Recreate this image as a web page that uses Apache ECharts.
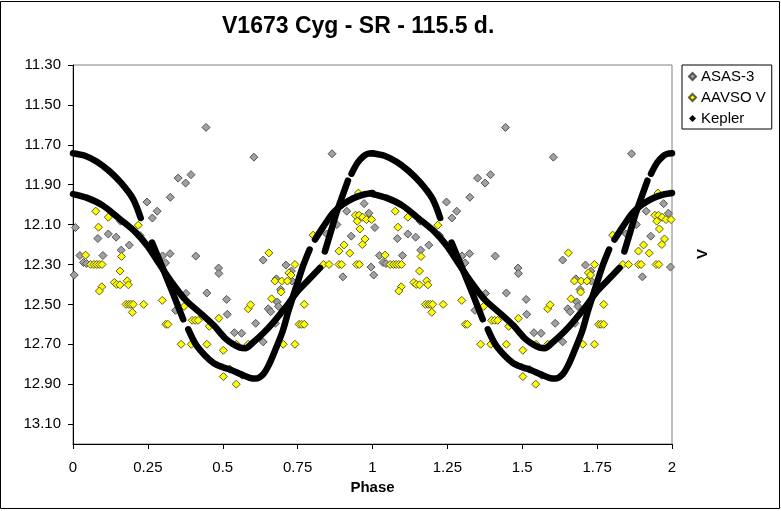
<!DOCTYPE html>
<html>
<head>
<meta charset="utf-8">
<script src="https://cdn.jsdelivr.net/npm/echarts@6/dist/echarts.min.js"></script>
<style>
    html, body { margin: 0; padding: 0; background: #fff; }
    #chart { width: 781px; height: 511px; }
</style>
</head>
<body>
<div id="chart"></div>
<script>
const titleText = 'V1673 Cyg - SR - 115.5 d.'
const seriesNames = ['ASAS-3', 'AAVSO V', 'Kepler']

// ASAS-3, phase 0..1 (plotted twice)
const asasPhase = [0.444, 0.604, 0.865, 0.351, 0.376, 0.394, 0.325, 0.247, 0.281, 0.265,
    0.008, 0.083, 0.118, 0.144, 0.161, 0.188, 0.159, 0.224, 0.972, 0.988,
    0.929, 0.914, 0.023, 0.100, 0.299, 0.324, 0.410, 0.035, 0.045, 0.004,
    0.342, 0.377, 0.447, 0.486, 0.487, 0.309, 0.513, 0.515, 0.539, 0.563,
    0.610, 0.565, 0.635, 0.635, 0.693, 0.652, 0.660, 0.682, 0.686, 0.676,
    0.679, 0.711, 0.731, 0.901, 0.995, 0.847, 0.881, 0.729]
const asasMag = [11.613, 11.762, 11.745, 11.867, 11.892, 11.850, 11.963, 11.987, 12.033, 12.067,
    12.115, 12.170, 12.147, 12.163, 12.228, 12.203, 12.083, 12.155, 11.995, 12.043,
    12.158, 12.033, 12.255, 12.255, 12.257, 12.246, 12.258, 12.290, 12.295, 12.353,
    12.530, 12.445, 12.443, 12.318, 12.345, 12.292, 12.475, 12.550, 12.642, 12.645,
    12.595, 12.855, 12.278, 12.688, 12.425, 12.522, 12.537, 12.488, 12.510, 12.595,
    12.372, 12.303, 12.383, 12.362, 12.313, 12.147, 12.100, 12.333]

// AAVSO V, phase 0..1 (plotted twice)
const aavsoPhase = [0.076, 0.118, 0.218, 0.085, 0.042, 0.162, 0.059, 0.070, 0.079, 0.088,
    0.097, 0.157, 0.096, 0.088, 0.138, 0.146, 0.157, 0.181, 0.185, 0.177,
    0.186, 0.193, 0.201, 0.236, 0.198, 0.298, 0.310, 0.317, 0.371, 0.398,
    0.408, 0.418, 0.487, 0.455, 0.361, 0.395, 0.447, 0.502, 0.502, 0.545,
    0.524, 0.546, 0.585, 0.585, 0.593, 0.654, 0.702, 0.741, 0.755, 0.763,
    0.772, 0.772, 0.674, 0.697, 0.716, 0.663, 0.695, 0.741, 0.721, 0.728,
    0.836, 0.855, 0.888, 0.924, 0.888, 0.897, 0.947, 0.956, 0.953, 0.943,
    0.955, 0.967, 0.980, 0.997, 0.949, 0.958, 0.975, 0.966, 0.905, 0.802]
const aavsoMag = [12.033, 12.063, 12.103, 12.113, 12.253, 12.260, 12.300, 12.300, 12.300, 12.300,
    12.300, 12.333, 12.412, 12.433, 12.390, 12.400, 12.402, 12.382, 12.402, 12.500,
    12.500, 12.500, 12.500, 12.500, 12.540, 12.480, 12.600, 12.600, 12.510, 12.580,
    12.580, 12.580, 12.570, 12.610, 12.700, 12.700, 12.700, 12.730, 12.862, 12.900,
    12.825, 12.700, 12.700, 12.522, 12.502, 12.242, 12.700, 12.700, 12.600, 12.600,
    12.600, 12.500, 12.383, 12.383, 12.383, 12.472, 12.438, 12.300, 12.342, 12.353,
    12.300, 12.300, 12.233, 12.243, 12.300, 12.300, 12.300, 12.300, 11.942, 12.053,
    12.053, 12.063, 12.075, 12.075, 12.083, 12.122, 12.172, 12.200, 12.202, 12.153]

// Kepler segments [phase, V], phase 0..1 (plotted twice)
const keplerA = [[0, 11.742], [0.04, 11.755], [0.08, 11.785], [0.12, 11.83], [0.16, 11.89],
    [0.20, 11.97], [0.226, 12.067]]
const keplerB = [[0, 11.947], [0.045, 11.965], [0.10, 12.005], [0.157, 12.073], [0.21, 12.14],
    [0.25, 12.21], [0.285, 12.29], [0.33, 12.39], [0.374, 12.475], [0.43, 12.55],
    [0.47, 12.605], [0.508, 12.67], [0.535, 12.70], [0.558, 12.717], [0.575, 12.72],
    [0.602, 12.69], [0.635, 12.645], [0.669, 12.59], [0.71, 12.515], [0.747, 12.44],
    [0.786, 12.378], [0.825, 12.317]]
const keplerS = [[0.264, 12.19], [0.30, 12.32], [0.335, 12.45], [0.368, 12.575]]
const keplerD = [[0.385, 12.625], [0.41, 12.70], [0.44, 12.755], [0.47, 12.795], [0.50, 12.815],
    [0.53, 12.83], [0.56, 12.85], [0.59, 12.868], [0.61, 12.872], [0.635, 12.85],
    [0.655, 12.80], [0.675, 12.73], [0.70, 12.635], [0.72, 12.53], [0.75, 12.39],
    [0.77, 12.30], [0.79, 12.225]]
const keplerP = [[0.808, 12.175], [0.836, 12.11], [0.869, 12.04], [0.90, 12.00], [0.936, 11.968],
    [0.97, 11.95], [1.0, 11.942]]
const keplerQ1 = [[0.841, 12.235], [0.86, 12.14], [0.88, 12.04], [0.90, 11.955], [0.918, 11.88]]
const keplerQ2 = [[0.93, 11.845], [0.95, 11.79], [0.97, 11.757], [0.985, 11.745], [1.0, 11.742]]

const keplerSegments = [keplerA, keplerB, keplerS, keplerD, keplerP, keplerQ1, keplerQ2]

const font = "'Liberation Sans', Arial, sans-serif"

let pairs = (ph, mg) => ph.map((p, i) => [p, mg[i]])
let twice = (pts) => pts.concat(pts.map(p => [p[0] + 1, p[1]]))

let scatter = (name, data, fill, border) => ({
    name: name,
    type: 'scatter',
    symbol: 'diamond',
    symbolSize: 8,
    data: twice(data),
    itemStyle: {color: fill, borderColor: border, borderWidth: 1, opacity: 1},
    z: 2
})

let series = [
    scatter(seriesNames[0], pairs(asasPhase, asasMag), '#a0a0a0', '#555555'),
    scatter(seriesNames[1], pairs(aavsoPhase, aavsoMag), '#ffff00', '#5c5c2e')
]

keplerSegments.forEach(seg => {
    [0, 1].forEach(d => {
        series.push({
            name: seriesNames[2],
            type: 'line',
            data: seg.map(p => [p[0] + d, p[1]]),
            showSymbol: false,
            symbol: 'diamond',
            smooth: 0.3,
            itemStyle: {color: '#000'},
            lineStyle: {color: '#000', width: 6.5, cap: 'round', join: 'round'},
            z: 3
        })
    })
})

let chart = echarts.init(document.getElementById('chart'), null, {renderer: 'canvas'})

chart.setOption({
    animation: false,
    backgroundColor: '#fff',
    textStyle: {fontFamily: font},
    title: {
        text: titleText,
        left: 217,
        top: 10,
        textStyle: {fontSize: 23, fontWeight: 'bold', color: '#000', fontFamily: font}
    },
    legend: {
        orient: 'vertical',
        left: 682,
        top: 65,
        padding: [4, 6, 3, 6],
        itemGap: 6,
        itemWidth: 7,
        itemHeight: 7,
        borderColor: '#000',
        borderWidth: 1,
        backgroundColor: '#fff',
        textStyle: {fontSize: 15, color: '#000', fontFamily: font},
        data: seriesNames.map(n => ({name: n, icon: 'diamond'}))
    },
    grid: {
        left: 73, top: 65, width: 599, height: 379,
        show: true, borderColor: '#808080', borderWidth: 1
    },
    xAxis: {
        type: 'value',
        min: 0, max: 2, interval: 0.25,
        name: 'Phase',
        nameLocation: 'middle',
        nameGap: 35,
        nameTextStyle: {fontSize: 15, fontWeight: 'bold', color: '#000', fontFamily: font},
        axisLine: {show: true, onZero: false, lineStyle: {color: '#000', width: 1}},
        axisTick: {show: true, inside: false, length: 5, lineStyle: {color: '#000'}},
        axisLabel: {fontSize: 15, color: '#000', margin: 16, fontFamily: font},
        splitLine: {show: false}
    },
    yAxis: {
        type: 'value',
        inverse: true,
        min: 11.3, max: 13.2, interval: 0.2,
        axisLine: {show: true, lineStyle: {color: '#000', width: 1}},
        axisTick: {show: true, inside: false, length: 5, lineStyle: {color: '#000'}},
        axisLabel: {
            fontSize: 15, color: '#000', margin: 12, fontFamily: font,
            showMaxLabel: false,
            formatter: v => v.toFixed(2)
        },
        splitLine: {show: false}
    },
    graphic: [
        {
            type: 'rect',
            shape: {x: 0.5, y: 1.5, width: 779, height: 507},
            style: {fill: 'none', stroke: '#000', lineWidth: 1},
            silent: true
        },
        {
            type: 'text',
            x: 703,
            y: 254,
            rotation: Math.PI / 2,
            style: {
                text: 'V', fontSize: 15, fontWeight: 'bold', fill: '#000', fontFamily: font,
                align: 'center', verticalAlign: 'middle'
            }
        }
    ],
    series: series
})
</script>
</body>
</html>
